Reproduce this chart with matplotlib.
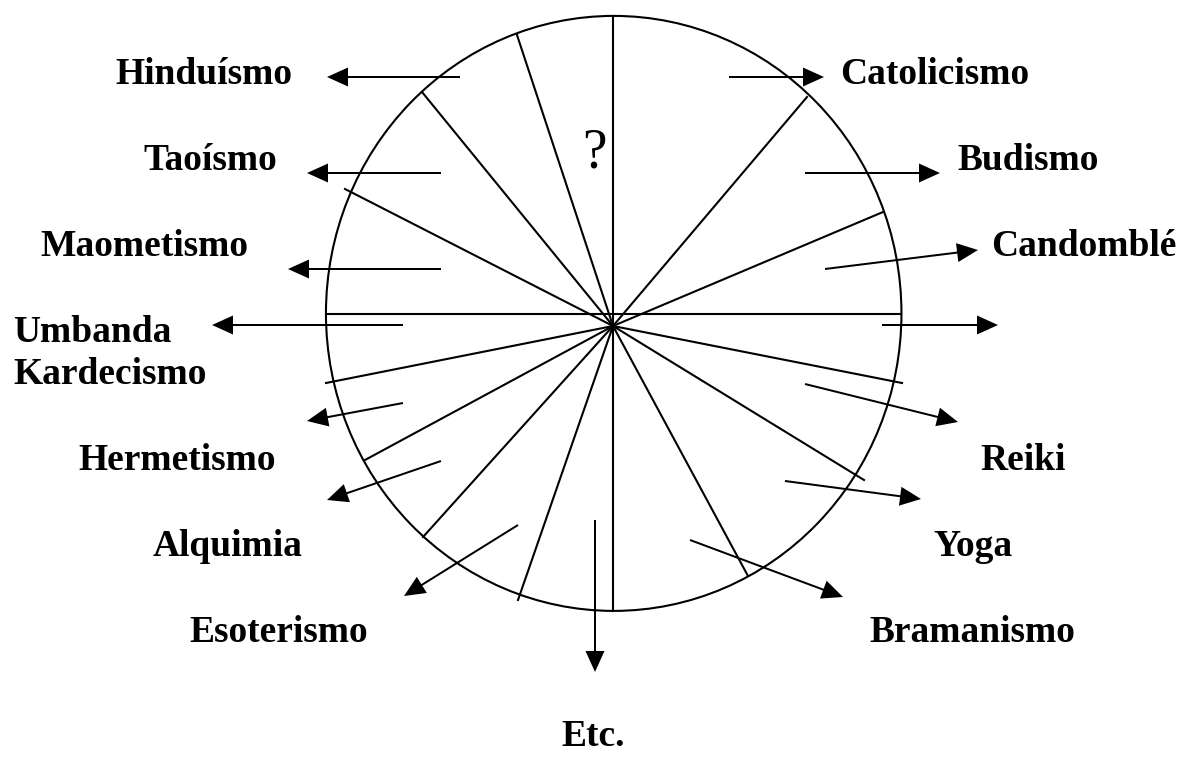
import matplotlib
matplotlib.use("Agg")
import matplotlib.pyplot as plt
from matplotlib.patches import Ellipse

# Diagrama: circulo de religioes / doutrinas (coordenadas em pixels da imagem)

# circulo
centro_circulo = (613.7, 313.4)
largura_circulo = 575.5
altura_circulo = 595

# ponto onde os raios se encontram
centro_raios = (613, 326)

# extremidades dos raios
raios_x = [517, 422, 345, 807, 883, 902, 864, 748, 518, 423, 365, 326]
raios_y = [35, 92, 189, 97, 212, 383, 480, 576, 600, 537, 460, 383]

# diametros (vertical e horizontal)
diametros = [((613, 15.7), (613, 611)), ((326, 313.5), (901, 313.5))]

# setas: inicio e ponta
setas_inicio = [(460, 77), (441, 173), (441, 269), (403, 325), (403, 403),
                (441, 461), (518, 525), (595, 520), (690, 540), (785, 481),
                (805, 384), (882, 325), (825, 269), (805, 173), (729, 77)]
setas_fim = [(327, 77), (307, 173), (288, 269), (212, 325), (307, 421),
             (327, 500), (404, 596), (595, 672), (843, 597), (921, 499),
             (958, 422), (998, 325), (978, 250), (940, 173), (824, 77)]

# rotulos (x esquerdo, linha de base)
rotulos = ['Hinduísmo', 'Taoísmo', 'Maometismo', 'Umbanda', 'Kardecismo',
           'Hermetismo', 'Alquimia', 'Esoterismo', 'Etc.', 'Bramanismo',
           'Yoga', 'Reiki', 'Candomblé', 'Budismo', 'Catolicismo']
rotulos_x = [115, 143, 40, 13, 13, 78, 153, 189, 561, 869, 933, 980, 991, 957, 840]
rotulos_y = [84, 170, 256, 342, 384, 470, 556, 642, 746, 642, 556, 470, 256, 170, 84]

fig = plt.figure(figsize=(11.78, 7.73), dpi=100)
ax = fig.add_axes([0, 0, 1, 1])
ax.set_xlim(0, 1178)
ax.set_ylim(773, 0)
ax.axis('off')

ax.add_patch(Ellipse(centro_circulo, largura_circulo, altura_circulo,
                     fill=False, edgecolor='black', lw=1.5))

for (x0, y0), (x1, y1) in diametros:
    ax.plot([x0, x1], [y0, y1], color='black', lw=1.5)

for x, y in zip(raios_x, raios_y):
    ax.plot([centro_raios[0], x], [centro_raios[1], y], color='black', lw=1.5)

for (x0, y0), (x1, y1) in zip(setas_inicio, setas_fim):
    ax.arrow(x0, y0, x1 - x0, y1 - y0, width=2, head_width=19, head_length=21,
             length_includes_head=True, color='black', lw=0)

for texto, x, y in zip(rotulos, rotulos_x, rotulos_y):
    ax.text(x, y, texto, fontsize=27, fontweight='bold',
            family='Liberation Serif', ha='left', va='baseline')

ax.text(594, 167, '?', fontsize=40, family='Liberation Serif',
        ha='center', va='baseline')

fig.savefig('out.png', dpi=100)
